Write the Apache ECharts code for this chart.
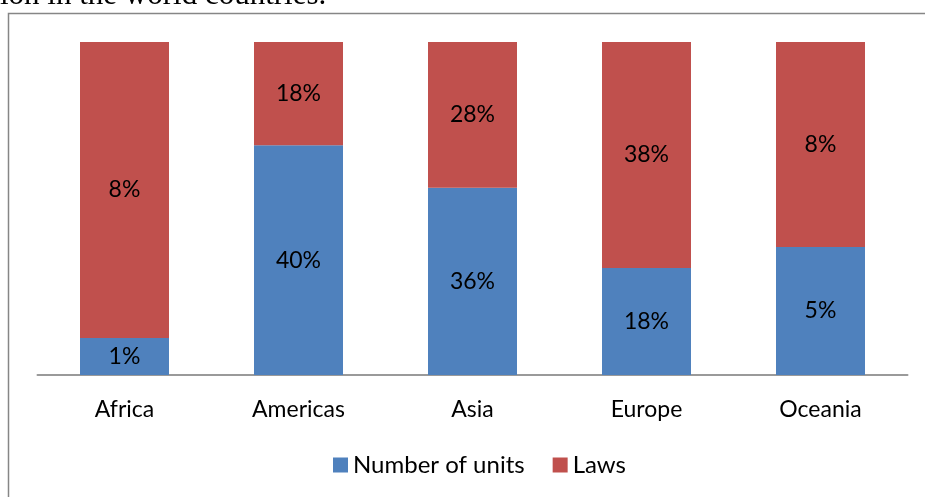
<!DOCTYPE html>
<html>
<head>
<meta charset="utf-8">
<script src="https://cdn.jsdelivr.net/npm/echarts@6/dist/echarts.min.js"></script>
<style>
  html, body { margin: 0; padding: 0; background: #fff; }
  #chart { width: 925px; height: 497px; }
</style>
</head>
<body>
<div id="chart"></div>
<script>
const regions = ['Africa', 'Americas', 'Asia', 'Europe', 'Oceania'];
const units = [1, 40, 36, 18, 5];
const laws = [8, 18, 28, 38, 8];

// 100% stacked: bar heights are each series' share of the region total
const totals = regions.map((_, i) => units[i] + laws[i]);
const unitsShare = units.map((v, i) => ({ value: v / totals[i], raw: v }));
const lawsShare = laws.map((v, i) => ({ value: v / totals[i], raw: v }));

const font = 'Lato, "Open Sans", sans-serif';

const myChart = echarts.init(document.getElementById('chart'));

const label = {
  show: true,
  position: 'inside',
  fontFamily: font,
  fontSize: 23,
  color: '#000',
  formatter: p => p.data.raw + '%'
};

myChart.setOption({
  animation: false,
  graphic: [
    {
      type: 'text',
      left: 0,
      top: -20,
      style: {
        text: 'ion in the world countries.',
        font: '31px "Liberation Serif", serif',
        fill: '#000'
      }
    },
    {
      type: 'rect',
      shape: { x: 8.5, y: 13.5, width: 1000, height: 600 },
      style: { fill: 'none', stroke: '#868686', lineWidth: 1.5 },
      silent: true
    }
  ],
  legend: {
    data: ['Number of units', 'Laws'],
    bottom: 15,
    left: 328,
    itemWidth: 15,
    itemHeight: 15,
    itemGap: 28,
    icon: 'rect',
    textStyle: { fontFamily: font, fontSize: 24, color: '#000' }
  },
  grid: { left: 37.5, right: 17.5, top: 42, bottom: 122 },
  xAxis: {
    type: 'category',
    data: regions,
    axisLine: { lineStyle: { color: '#9a9a9a', width: 2 } },
    axisTick: { show: false },
    axisLabel: { fontFamily: font, fontSize: 23, color: '#000', margin: 23 }
  },
  yAxis: {
    type: 'value',
    min: 0,
    max: 1,
    show: false,
    splitLine: { show: false }
  },
  series: [
    {
      name: 'Number of units',
      type: 'bar',
      stack: 'total',
      barWidth: 89,
      data: unitsShare,
      label,
      itemStyle: { color: '#4F81BD' }
    },
    {
      name: 'Laws',
      type: 'bar',
      stack: 'total',
      barWidth: 89,
      data: lawsShare,
      label,
      itemStyle: { color: '#C0504D' }
    }
  ]
});
</script>
</body>
</html>
